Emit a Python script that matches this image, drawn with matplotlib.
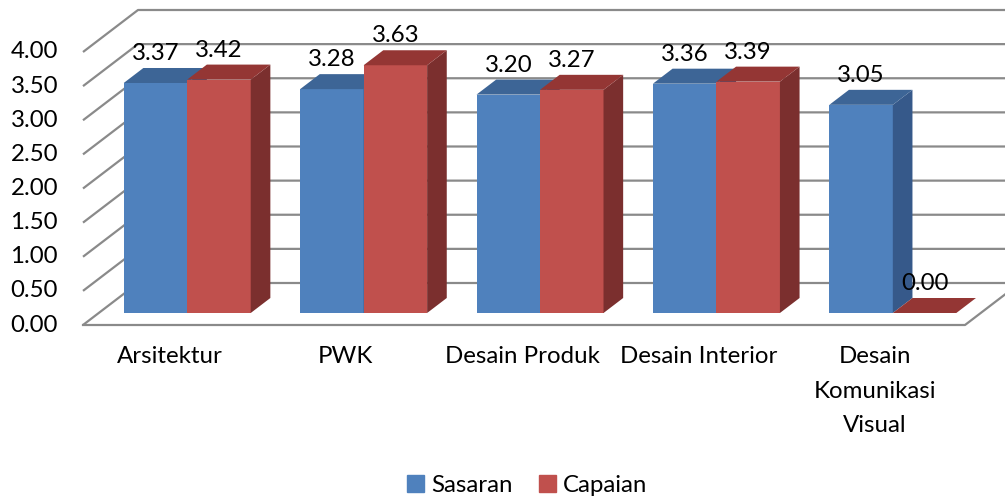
import matplotlib.pyplot as plt
from matplotlib.patches import Patch

categories = ['Arsitektur', 'PWK', 'Desain Produk', 'Desain Interior', 'Desain\nKomunikasi\nVisual']
sasaran = [3.37, 3.28, 3.20, 3.36, 3.05]
capaian = [3.42, 3.63, 3.27, 3.39, 0.00]
ticks = [0.0, 0.5, 1.0, 1.5, 2.0, 2.5, 3.0, 3.5, 4.0]

plt.rcParams['font.family'] = ['Lato', 'DejaVu Sans']
FS = 17.3

# oblique projection: one slot = 176.4 px, one unit of value = 68.25 px
SX, SY = 176.4, 68.25
X0, Y0 = 83, 325
DU, DV = 55 / SX, 42 / SY          # full depth of the floor in data units
D1, D2 = 12 / 42, 27 / 42          # bars sit between these depths
MARGIN, BW = 25 / SX, 63.5 / SX

fig = plt.figure(figsize=(10.05, 4.96), dpi=100)
ax = fig.add_axes([0, 0, 1, 1])
ax.set_xlim(-X0 / SX, (1005 - X0) / SX)
ax.set_ylim((Y0 - 496) / SY, Y0 / SY)
ax.axis('off')

grid_c = '#8a8a8a'
xmax = (1005 - X0) / SX + 0.1
for t in ticks:
    ax.plot([0, DU, xmax], [t, t + DV, t + DV], color=grid_c, lw=1.6, zorder=1,
            solid_capstyle='butt')
    ax.text(-25 / SX, t, f'{t:.2f}', ha='right', va='center', fontsize=FS)
# floor
ax.plot([0, 5, 5 + DU], [0, 0, DV], color=grid_c, lw=1.6, zorder=1)
ax.fill([0, 5, 5 + DU, DU], [0, 0, DV, DV], color='white', zorder=0.5)

styles = {
    'blue': ('#4f81bd', '#3d6596', '#36598a'),
    'red': ('#c0504d', '#943634', '#7b2f2e'),
}


def bar3d(x, h, cols):
    front, top, side = cols
    ox, oy = D1 * DU, D1 * DV
    ddx, ddy = (D2 - D1) * DU, (D2 - D1) * DV
    xl, xr = x + ox, x + BW + ox
    yb, yt = oy, oy + h
    if h > 0:
        ax.fill([xl, xr, xr, xl], [yb, yb, yt, yt], color=front, zorder=3, lw=0)
        ax.fill([xr, xr + ddx, xr + ddx, xr], [yb, yb + ddy, yt + ddy, yt],
                color=side, zorder=3, lw=0)
    ax.fill([xl, xr, xr + ddx, xl + ddx], [yt, yt, yt + ddy, yt + ddy],
            color=top, zorder=3, lw=0)
    ax.text(xl + BW / 2, yt + ddy + 4 / SY, f'{h:.2f}', ha='center', va='bottom',
            fontsize=FS, zorder=4)


for i, cat in enumerate(categories):
    bar3d(i + MARGIN, sasaran[i], styles['blue'])
    bar3d(i + MARGIN + BW, capaian[i], styles['red'])
    ax.text(i + 0.49, -(346 - Y0) / SY, cat, ha='center', va='top', fontsize=FS,
            linespacing=1.8)

handles = [Patch(color='#4f81bd', label='Sasaran'), Patch(color='#c0504d', label='Capaian')]
fig.legend(handles=handles, loc='center', bbox_to_anchor=(527 / 1005, 1 - 485 / 496),
           ncol=2, frameon=False, fontsize=FS, handlelength=0.7, handleheight=0.7,
           handletextpad=0.3, columnspacing=1.1, borderpad=0)

fig.savefig('out.png', dpi=100)
